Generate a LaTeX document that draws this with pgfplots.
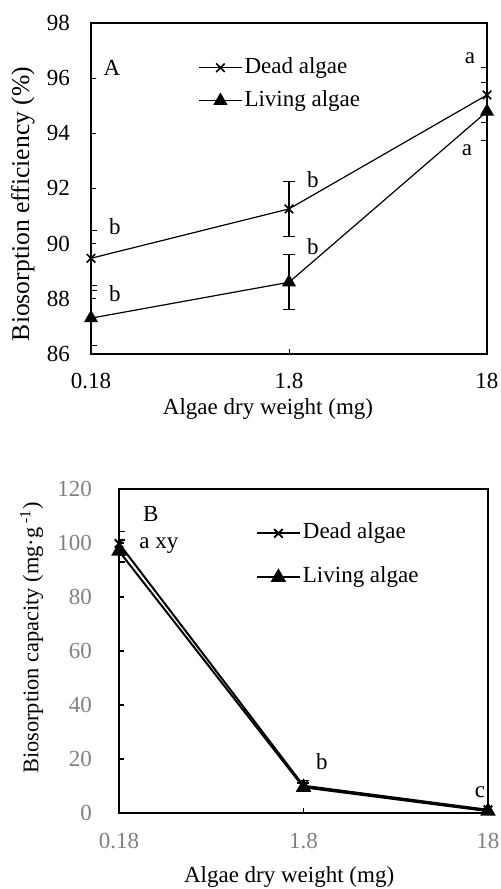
\documentclass[border=0pt]{standalone}
\usepackage{fontspec}
\setmainfont{Liberation Serif}
\usepackage{pgfplots}
\pgfplotsset{compat=1.18}

\pgfplotsset{
  every axis/.append style={font=\fontsize{11.5}{13}\selectfont},
  panel/.style={
    scale only axis,
    anchor=south west,
    xmin=0, xmax=2,
    xtick={0,1,2}, xticklabels={0.18,1.8,18},
    xtick pos=bottom, ytick pos=left,
    tick align=inside, major tick length=2.5pt,
    /pgf/number format/assume math mode=true,
    legend cell align=left,
    legend image code/.code={\draw[mark repeat=2,mark phase=2] plot coordinates {(0pt,0pt) (10.75pt,0pt) (21.5pt,0pt)};},
  },
}

\begin{document}
\begin{tikzpicture}
\useasboundingbox (0,0) rectangle (250pt,444.5pt);

% panel A
\begin{axis}[
  panel,
  at={(45.5pt,267.5pt)},
  width=198pt, height=165.5pt,
  ymin=86, ymax=98,
  ytick={86,88,...,98},
  axis line style={line width=0.6pt},
  tick style={black, line width=0.5pt},
  xticklabel style={yshift=-6pt},
  yticklabel style={xshift=-7pt},
  xlabel={Algae dry weight (mg)},
  xlabel style={at={(rel axis cs:0.447,0)}, anchor=center, yshift=-27.5pt},
  ylabel={Biosorption efficiency (\%)},
  ylabel style={at={(rel axis cs:0,0.453)}, anchor=center, yshift=34pt,
    font=\fontsize{12.8}{14}\selectfont},
  legend style={at={(rel axis cs:0.27,0.815)}, anchor=west, draw=none, fill=none,
    inner sep=0pt, row sep=4pt,
    nodes={inner sep=1pt, text height=8pt, text depth=2.5pt}},
]
\addplot[black, line width=0.6pt, mark=x, mark size=3pt,
  mark options={line width=0.8pt},
  error bars/.cd, y dir=both, y explicit,
  error bar style={line width=0.6pt},
  error mark options={rotate=90, mark size=3pt, line width=0.6pt}]
  coordinates {(0,89.47) +- (0,1.0) (1,91.26) +- (0,1.0) (2,95.39) +- (0,1.0)};
\addlegendentry{Dead algae}
\addplot[black, line width=0.6pt, mark=triangle*, mark size=3.5pt,
  error bars/.cd, y dir=both, y explicit,
  error bar style={line width=0.6pt},
  error mark options={rotate=90, mark size=3pt, line width=0.6pt}]
  coordinates {(0,87.3) +- (0,1.0) (1,88.6) +- (0,1.0) (2,94.79) +- (0,1.05)};
\addlegendentry{Living algae}
\node at (axis cs:0.106,96.37) {A};
\node at (axis cs:0.121,90.61) {b};
\node at (axis cs:0.121,88.18) {b};
\node at (axis cs:1.121,92.31) {b};
\node at (axis cs:1.121,89.88) {b};
\node at (axis cs:1.914,96.73) {a};
\node at (axis cs:1.899,93.40) {a};
\end{axis}

% panel B
\begin{axis}[
  panel,
  at={(59.5pt,37.85pt)},
  width=184.5pt, height=162.2pt,
  ymin=0, ymax=120,
  ytick={0,20,...,120},
  axis line style={line width=1pt},
  tick style={black, line width=0.8pt},
  ticklabel style={color=black!50},
  xticklabel style={yshift=-6.5pt},
  yticklabel style={xshift=-10pt},
  xlabel={Algae dry weight (mg)},
  xlabel style={at={(rel axis cs:0.461,0)}, anchor=center, yshift=-31.7pt},
  ylabel={Biosorption capacity (mg·g\,\textsuperscript{-1})},
  ylabel style={at={(rel axis cs:0,0.54)}, anchor=center, yshift=43.7pt,
    font=\fontsize{11.2}{13}\selectfont},
  legend style={at={(rel axis cs:0.37,0.795)}, anchor=west, draw=none, fill=none,
    inner sep=0pt, row sep=9.5pt,
    nodes={inner sep=1pt, text height=8pt, text depth=2.5pt}},
]
\addplot[black, line width=1pt, mark=x, mark size=3pt,
  error bars/.cd, y dir=both, y explicit,
  error bar style={line width=0.8pt},
  error mark options={rotate=90, mark size=3pt, line width=0.8pt}]
  coordinates {(0,99.8) +- (0,4.5) (1,10.2) +- (0,2) (2,1.3) +- (0,0.5)};
\addlegendentry{Dead algae}
\addplot[black, line width=1pt, mark=triangle*, mark size=3.5pt,
  error bars/.cd, y dir=both, y explicit,
  error bar style={line width=0.8pt},
  error mark options={rotate=90, mark size=3pt, line width=0.8pt}]
  coordinates {(0,97) +- (0,4) (1,9.6) +- (0,1.5) (2,0.8) +- (0,0.5)};
\addlegendentry{Living algae}
\node at (axis cs:0.172,110.7) {B};
\node at (axis cs:0.216,98.9) {a xy};
\node at (axis cs:1.10,19.0) {b};
\node at (axis cs:1.957,7.9) {c};
\end{axis}
\end{tikzpicture}
\end{document}
